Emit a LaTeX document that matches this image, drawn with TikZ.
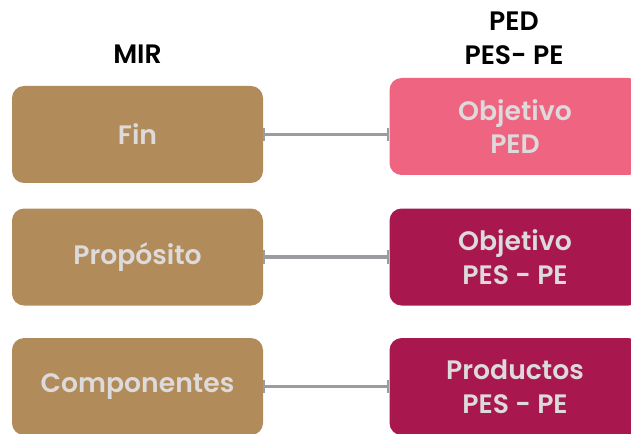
\documentclass[tikz,border=0pt]{standalone}
\usepackage{fontspec}
\setmainfont{Poppins}[BoldFont={Poppins SemiBold}]
\usepackage{tikz}
\usetikzlibrary{arrows.meta,positioning}
\definecolor{mirtan}{HTML}{B28B5B}
\definecolor{pedpink}{HTML}{EF6581}
\definecolor{pescrimson}{HTML}{A8174D}
\definecolor{linkgray}{HTML}{9B9C9F}
\definecolor{boxtext}{HTML}{DCDADA}
\tikzset{%
  box/.style={rounded corners=9pt,minimum width=188.25pt,minimum height=72.75pt,align=center,
    text=boxtext,font=\fontsize{20}{25}\selectfont\bfseries},
  mirbox/.style={box,fill=mirtan},
  pedbox/.style={box,fill=pedpink},
  pesbox/.style={box,fill=pescrimson},
  header/.style={align=center,font=\fontsize{20}{25.5}\selectfont\bfseries},
  link/.style={line width=2.4pt,draw=linkgray,{Bar[width=10pt,line width=1.5pt]}-{Bar[width=10pt,line width=1.5pt]}},
}

\begin{document}
\begin{tikzpicture}[x=0.75pt,y=-0.75pt,node distance=18.75pt]
  \useasboundingbox (0,0) rectangle (631,434);
  % left column
  \node[mirbox] (fin) at (137.5,134.5) {Fin};
  \node[mirbox,below=of fin] (proposito) {Propósito};
  \node[mirbox,below=of proposito,yshift=-5.25pt] (componentes) {Componentes};
  % right column
  \node[pedbox,right=94.5pt of fin,yshift=6pt] (objped) {Objetivo\\PED};
  \node[pesbox,right=94.5pt of proposito] (objpes) {Objetivo\\PES - PE};
  \node[pesbox,right=94.5pt of componentes] (productos) {Productos\\PES - PE};
  % headers
  \node[header] (mir) at (137.5,54) {MIR};
  \node[header] (ped) at (514,38) {PED\\PES- PE};

  \draw[link] (fin.east) -- (fin.east -| objped.west);
  \draw[link] (proposito.east) -- (objpes.west);
  \draw[link] (componentes.east) -- (productos.west);
\end{tikzpicture}
\end{document}
